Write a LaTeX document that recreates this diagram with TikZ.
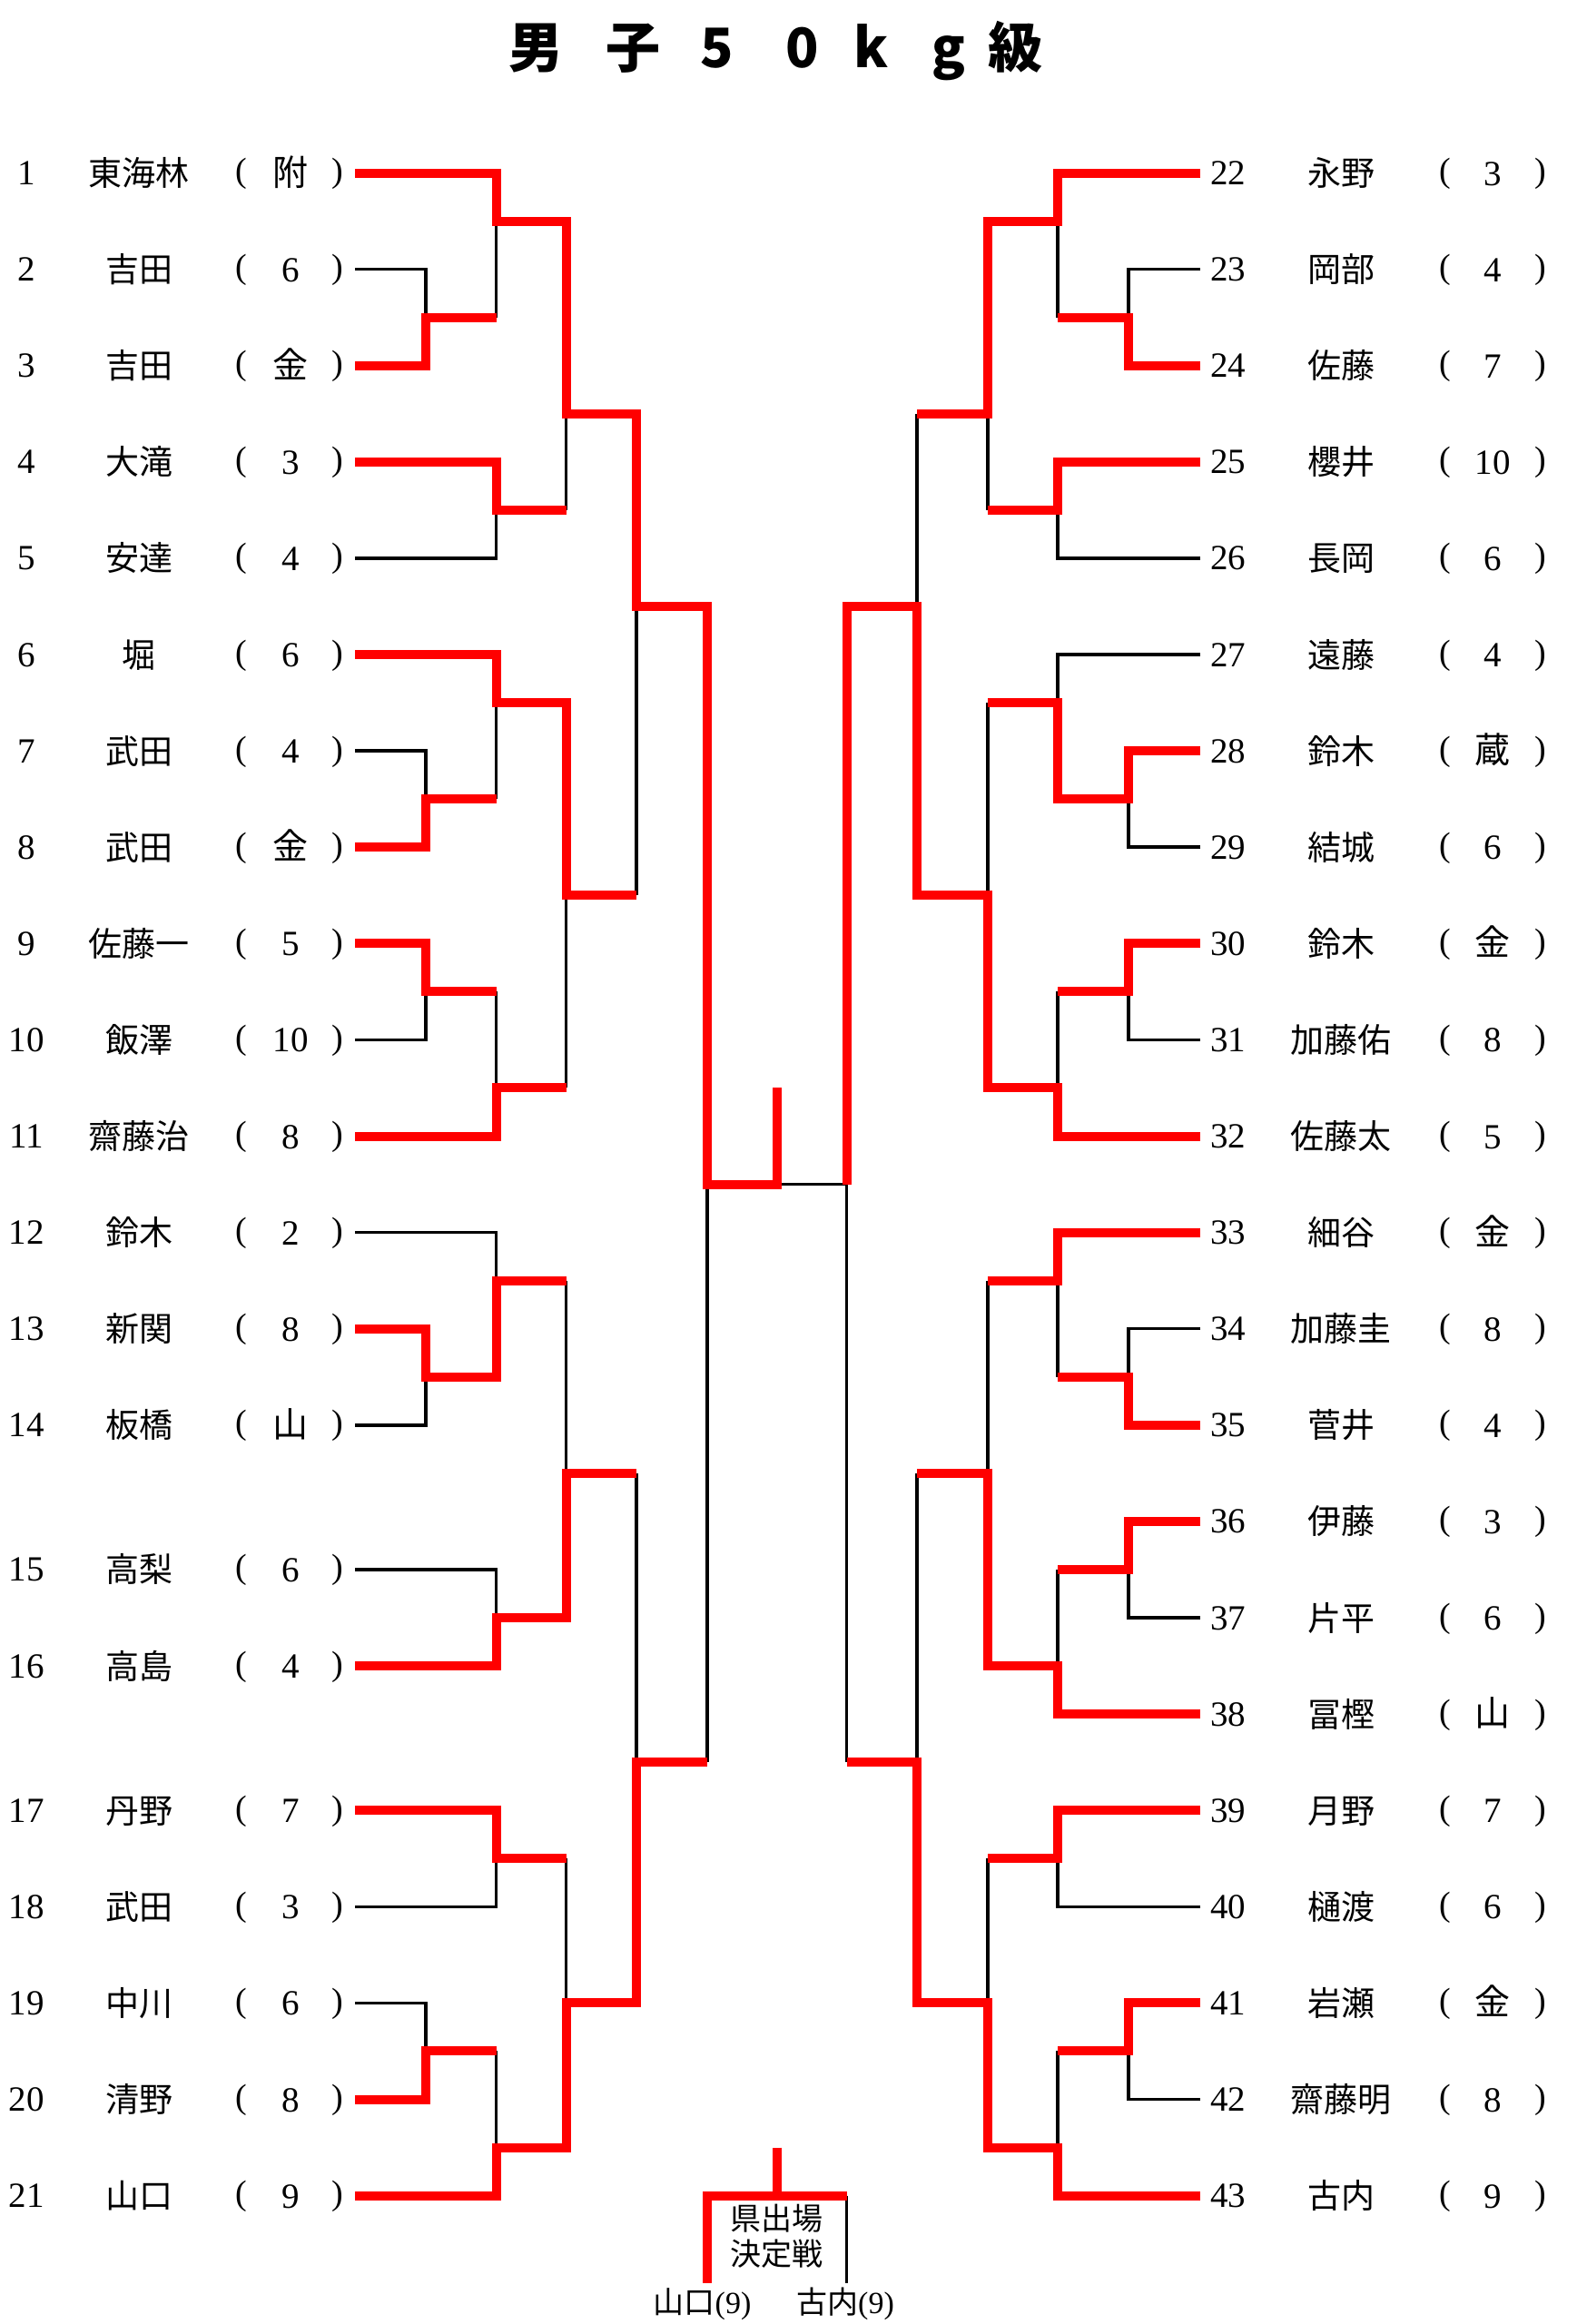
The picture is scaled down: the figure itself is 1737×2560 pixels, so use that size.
\documentclass[tikz,border=0pt]{standalone}
\usepackage{fontspec}
\setmainfont{Liberation Serif}
\newfontfamily\jpfont{Noto Sans CJK JP}
% column positions (px = pt)
\newcommand\cLa{391}
\newcommand\cLb{469}
\newcommand\cLc{546.5}
\newcommand\cLd{623.5}
\newcommand\cLe{701}
\newcommand\cLf{779}
\newcommand\cC{856}
\newcommand\cRf{932.5}
\newcommand\cRe{1010}
\newcommand\cRd{1088}
\newcommand\cRc{1165}
\newcommand\cRb{1243}
\newcommand\cRa{1322}
\tikzset{
  win/.style={draw=red, line width=10pt, line join=miter},
  lose/.style={draw=black, line width=3.5pt, line join=miter},
  numtxt/.style={font=\fontsize{39}{40}\selectfont, anchor=base, yshift=-13pt, inner sep=0pt},
  nametxt/.style={font=\jpfont\fontsize{37}{40}\selectfont, anchor=base, yshift=-14pt, inner sep=0pt},
  partxt/.style={font=\fontsize{38}{40}\selectfont, anchor=base, yshift=-10pt, inner sep=0pt},
  afftxt/.style={font=\fontsize{39}{40}\selectfont, anchor=base, yshift=-13.5pt, inner sep=0pt},
  ttl/.style={font=\jpfont\bfseries\fontsize{60}{60}\selectfont, anchor=base, inner sep=0pt},
  btxt/.style={font=\fontsize{34}{36}\selectfont, anchor=base, inner sep=0pt},
}
\newcommand\lrow[4]{%
  \node[numtxt] (ln#1) at (29,#2) {#1};
  \node[nametxt] (lnm#1) at (153,#2) {#3};
  \node[partxt] (lpo#1) at (266,#2) {(};
  \node[afftxt] (laf#1) at (320,#2) {#4};
  \node[partxt] (lpc#1) at (372,#2) {)};
}
\newcommand\rrow[4]{%
  \node[numtxt] (rn#1) at (1352.5,#2) {#1};
  \node[nametxt] (rnm#1) at (1477,#2) {#3};
  \node[partxt] (rpo#1) at (1592,#2) {(};
  \node[afftxt] (raf#1) at (1644,#2) {#4};
  \node[partxt] (rpc#1) at (1697,#2) {)};
}
\newcommand\J[1]{{\jpfont #1}}
\begin{document}
\begin{tikzpicture}[x=1pt,y=-1pt]
\useasboundingbox[fill=white] (0,0) rectangle (1737,2560);
% title
\node[ttl] (t1) at (590,74.5) {男};
\node[ttl] (t2) at (697,74.5) {子};
\node[ttl] (t3) at (790,74.5) {5};
\node[ttl] (t4) at (884,74.5) {0};
\node[ttl] (t5) at (960,74.5) {k};
\node[ttl] (t6) at (1045,74.5) {g};
\node[ttl] (t7) at (1118,74.5) {級};

\begin{scope}[yshift=-190.5pt, y=-106.1pt]
% ---------- losing (black) lines ----------
% left
\draw[lose] (\cLa,1)--(\cLb,1)--(\cLb,1.5);
\draw[lose] (\cLc,1.5)--(\cLc,0.5);
\draw[lose] (\cLd,3.5)--(\cLd,2.5);
\draw[lose] (\cLa,4)--(\cLc,4)--(\cLc,3.5);
\draw[lose] (\cLe,7.5)--(\cLe,4.5);
\draw[lose] (\cLa,6)--(\cLb,6)--(\cLb,6.5);
\draw[lose] (\cLc,6.5)--(\cLc,5.5);
\draw[lose] (\cLc,8.5)--(\cLc,9.5);
\draw[lose] (\cLa,9)--(\cLb,9)--(\cLb,8.5);
\draw[lose] (\cLd,9.5)--(\cLd,7.5);
\draw[lose] (\cLa,11)--(\cLc,11)--(\cLc,11.5);
\draw[lose] (\cLd,11.5)--(\cLd,13.5);
\draw[lose] (\cLa,13)--(\cLb,13)--(\cLb,12.5);
\draw[lose] (\cLa,14.5)--(\cLc,14.5)--(\cLc,15);
\draw[lose] (\cLe,13.5)--(\cLe,16.5);
\draw[lose] (\cLd,17.5)--(\cLd,19);
\draw[lose] (\cLa,18)--(\cLc,18)--(\cLc,17.5);
\draw[lose] (\cLa,19)--(\cLb,19)--(\cLb,19.5);
\draw[lose] (\cLc,19.5)--(\cLc,20.5);
\draw[lose] (\cLf,16.5)--(\cLf,10.5);
% right
\draw[lose] (\cRe,2.5)--(\cRe,4.5);
\draw[lose] (\cRa,1)--(\cRb,1)--(\cRb,1.5);
\draw[lose] (\cRc,1.5)--(\cRc,0.5);
\draw[lose] (\cRd,3.5)--(\cRd,2.5);
\draw[lose] (\cRa,4)--(\cRc,4)--(\cRc,3.5);
\draw[lose] (\cRa,5)--(\cRc,5)--(\cRc,5.5);
\draw[lose] (\cRd,5.5)--(\cRd,7.5);
\draw[lose] (\cRa,7)--(\cRb,7)--(\cRb,6.5);
\draw[lose] (\cRc,8.5)--(\cRc,9.5);
\draw[lose] (\cRa,9)--(\cRb,9)--(\cRb,8.5);
\draw[lose] (\cRf,10.5)--(\cC,10.5);
\draw[lose] (\cRd,11.5)--(\cRd,13.5);
\draw[lose] (\cRa,12)--(\cRb,12)--(\cRb,12.5);
\draw[lose] (\cRc,12.5)--(\cRc,11.5);
\draw[lose] (\cRc,14.5)--(\cRc,15.5);
\draw[lose] (\cRa,15)--(\cRb,15)--(\cRb,14.5);
\draw[lose] (\cRe,13.5)--(\cRe,16.5);
\draw[lose] (\cRd,17.5)--(\cRd,19);
\draw[lose] (\cRa,18)--(\cRc,18)--(\cRc,17.5);
\draw[lose] (\cRc,19.5)--(\cRc,20.5);
\draw[lose] (\cRa,20)--(\cRb,20)--(\cRb,19.5);
\draw[lose] (\cRf,16.5)--(\cRf,10.5);
\draw[lose] (\cRf,21)--(\cRf,21.904);

% ---------- winning (red) lines ----------
% left
\draw[win] (\cLa,0)--(\cLc,0)--(\cLc,.5)--(\cLd,.5)--(\cLd,2.5)--(\cLe,2.5)--(\cLe,4.5)--(\cLf,4.5)--(\cLf,10.5)--(\cC,10.5)--(\cC,9.5);
\draw[win] (\cLa,2)--(\cLb,2)--(\cLb,1.5)--(\cLc,1.5);
\draw[win] (\cLa,3)--(\cLc,3)--(\cLc,3.5)--(\cLd,3.5);
\draw[win] (\cLa,5)--(\cLc,5)--(\cLc,5.5)--(\cLd,5.5)--(\cLd,7.5)--(\cLe,7.5);
\draw[win] (\cLa,7)--(\cLb,7)--(\cLb,6.5)--(\cLc,6.5);
\draw[win] (\cLa,8)--(\cLb,8)--(\cLb,8.5)--(\cLc,8.5);
\draw[win] (\cLa,10)--(\cLc,10)--(\cLc,9.5)--(\cLd,9.5);
\draw[win] (\cLa,12)--(\cLb,12)--(\cLb,12.5)--(\cLc,12.5)--(\cLc,11.5)--(\cLd,11.5);
\draw[win] (\cLa,15.5)--(\cLc,15.5)--(\cLc,15)--(\cLd,15)--(\cLd,13.5)--(\cLe,13.5);
\draw[win] (\cLa,17)--(\cLc,17)--(\cLc,17.5)--(\cLd,17.5);
\draw[win] (\cLa,20)--(\cLb,20)--(\cLb,19.5)--(\cLc,19.5);
\draw[win] (\cLa,21)--(\cLc,21)--(\cLc,20.5)--(\cLd,20.5)--(\cLd,19)--(\cLe,19)--(\cLe,16.5)--(\cLf,16.5);
% right
\draw[win] (\cRa,0)--(\cRc,0)--(\cRc,.5)--(\cRd,.5)--(\cRd,2.5)--(\cRe,2.5);
\draw[win] (\cRa,2)--(\cRb,2)--(\cRb,1.5)--(\cRc,1.5);
\draw[win] (\cRa,3)--(\cRc,3)--(\cRc,3.5)--(\cRd,3.5);
\draw[win] (\cRa,6)--(\cRb,6)--(\cRb,6.5)--(\cRc,6.5)--(\cRc,5.5)--(\cRd,5.5);
\draw[win] (\cRa,8)--(\cRb,8)--(\cRb,8.5)--(\cRc,8.5);
\draw[win] (\cRa,10)--(\cRc,10)--(\cRc,9.5)--(\cRd,9.5)--(\cRd,7.5)--(\cRe,7.5)--(\cRe,4.5)--(\cRf,4.5)--(\cRf,10.5);
\draw[win] (\cRa,11)--(\cRc,11)--(\cRc,11.5)--(\cRd,11.5);
\draw[win] (\cRa,13)--(\cRb,13)--(\cRb,12.5)--(\cRc,12.5);
\draw[win] (\cRa,14)--(\cRb,14)--(\cRb,14.5)--(\cRc,14.5);
\draw[win] (\cRa,16)--(\cRc,16)--(\cRc,15.5)--(\cRd,15.5)--(\cRd,13.5)--(\cRe,13.5);
\draw[win] (\cRa,17)--(\cRc,17)--(\cRc,17.5)--(\cRd,17.5);
\draw[win] (\cRa,19)--(\cRb,19)--(\cRb,19.5)--(\cRc,19.5);
\draw[win] (\cRa,21)--(\cRc,21)--(\cRc,20.5)--(\cRd,20.5)--(\cRd,19)--(\cRe,19)--(\cRe,16.5)--(\cRf,16.5);
% play-off
\draw[win] (\cLf,21.904)--(\cLf,21)--(\cRf,21);
\draw[win] (\cC,20.5)--(\cC,21);

% ---------- entries ----------
\lrow{1}{0}{東海林}{\J{附}}
\lrow{2}{1}{吉田}{6}
\lrow{3}{2}{吉田}{\J{金}}
\lrow{4}{3}{大滝}{3}
\lrow{5}{4}{安達}{4}
\lrow{6}{5}{堀}{6}
\lrow{7}{6}{武田}{4}
\lrow{8}{7}{武田}{\J{金}}
\lrow{9}{8}{佐藤一}{5}
\lrow{10}{9}{飯澤}{10}
\lrow{11}{10}{齋藤治}{8}
\lrow{12}{11}{鈴木}{2}
\lrow{13}{12}{新関}{8}
\lrow{14}{13}{板橋}{\J{山}}
\lrow{15}{14.5}{高梨}{6}
\lrow{16}{15.5}{高島}{4}
\lrow{17}{17}{丹野}{7}
\lrow{18}{18}{武田}{3}
\lrow{19}{19}{中川}{6}
\lrow{20}{20}{清野}{8}
\lrow{21}{21}{山口}{9}
\rrow{22}{0}{永野}{3}
\rrow{23}{1}{岡部}{4}
\rrow{24}{2}{佐藤}{7}
\rrow{25}{3}{櫻井}{10}
\rrow{26}{4}{長岡}{6}
\rrow{27}{5}{遠藤}{4}
\rrow{28}{6}{鈴木}{\J{蔵}}
\rrow{29}{7}{結城}{6}
\rrow{30}{8}{鈴木}{\J{金}}
\rrow{31}{9}{加藤佑}{8}
\rrow{32}{10}{佐藤太}{5}
\rrow{33}{11}{細谷}{\J{金}}
\rrow{34}{12}{加藤圭}{8}
\rrow{35}{13}{菅井}{4}
\rrow{36}{14}{伊藤}{3}
\rrow{37}{15}{片平}{6}
\rrow{38}{16}{冨樫}{\J{山}}
\rrow{39}{17}{月野}{7}
\rrow{40}{18}{樋渡}{6}
\rrow{41}{19}{岩瀬}{\J{金}}
\rrow{42}{20}{齋藤明}{8}
\rrow{43}{21}{古内}{9}
\end{scope}

% play-off labels
\node[btxt] (po1) at (855,2456) {\J{県出場}};
\node[btxt] (po2) at (855,2495) {\J{決定戦}};
\node[btxt] (pl) at (773.5,2548) {\J{山口}(9)};
\node[btxt] (pr) at (931,2548) {\J{古内}(9)};
\end{tikzpicture}
\end{document}
